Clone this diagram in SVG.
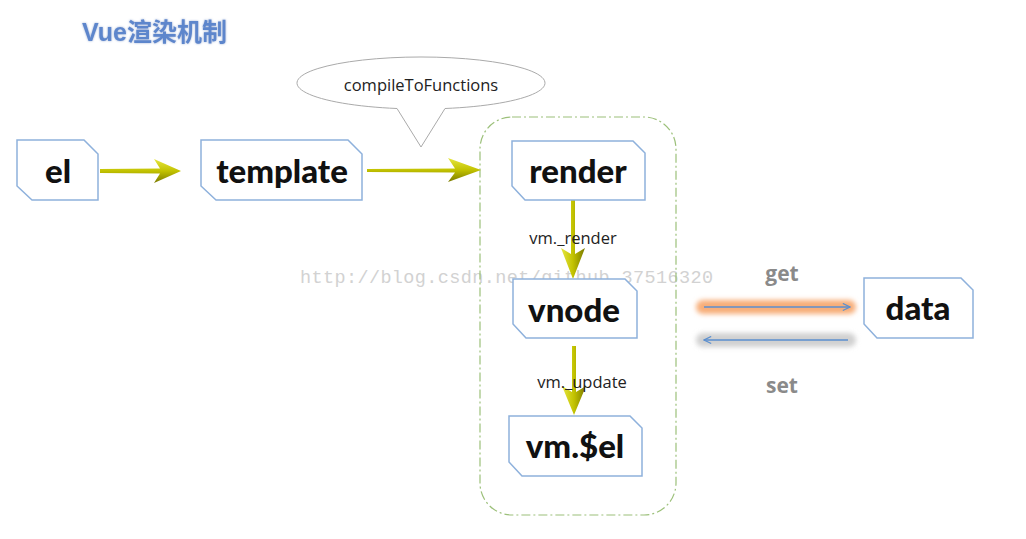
<svg xmlns="http://www.w3.org/2000/svg" width="1026" height="539" viewBox="0 0 1026 539">
<style>
.box{fill:#fff;stroke:#8eb1dc;stroke-width:1.5}
.nt{font-family:Lato,"Open Sans",sans-serif;font-weight:900;font-size:33px;fill:#111;text-anchor:middle}
.lbl{font-family:"Open Sans","Liberation Sans",sans-serif;font-size:16.5px;fill:#222;text-anchor:middle}
.gs{font-family:"Open Sans","Liberation Sans",sans-serif;font-weight:700;font-size:21px;fill:#8a8a8a;text-anchor:middle}
.ol{fill:url(#olh)}
.olv{fill:url(#olv)}
</style>
<defs>
<linearGradient id="olh" x1="0" y1="0" x2="0" y2="1">
<stop offset="0" stop-color="#e6e640"/><stop offset="0.5" stop-color="#c2c200"/><stop offset="1" stop-color="#7a7a00"/>
</linearGradient>
<linearGradient id="olv" x1="0" y1="0" x2="1" y2="0">
<stop offset="0" stop-color="#e6e640"/><stop offset="0.5" stop-color="#c2c200"/><stop offset="1" stop-color="#7a7a00"/>
</linearGradient>
<filter id="glow" x="-10%" y="-100%" width="120%" height="300%"><feGaussianBlur stdDeviation="2.5"/></filter>
<filter id="tsh" x="-10%" y="-30%" width="120%" height="160%"><feGaussianBlur in="SourceAlpha" stdDeviation="1.2" result="b"/><feFlood flood-color="#9fb3d6"/><feComposite in2="b" operator="in" result="s"/><feMerge><feMergeNode in="s"/><feMergeNode in="SourceGraphic"/></feMerge></filter>
<marker id="bh" viewBox="0 0 10 10" refX="9" refY="5" markerWidth="9" markerHeight="9" orient="auto" markerUnits="userSpaceOnUse"><path d="M1,1 L9,5 L1,9" fill="none" stroke="#5b8fcf" stroke-width="1.3"/></marker>
</defs>
<text x="82" y="41" font-family="'Liberation Sans','Noto Sans CJK SC',sans-serif" font-weight="700" font-size="25" fill="#5d86cc" filter="url(#tsh)">Vue渲染机制</text>
<text x="300" y="283" font-family="'Liberation Mono',monospace" font-size="18.5" fill="#d2d2d2" textLength="413">http://blog.csdn.net/github_37516320</text>
<g id="container"><rect x="480" y="117" width="196" height="398" rx="32" fill="none" stroke="#9cc07a" stroke-width="1.2" stroke-dasharray="9,3,2,3"/></g>
<g id="callout"><path d="M397,108.5 A124,26 0 1 1 445,108.5 L421,147 Z" fill="#fff" stroke="#aaa" stroke-width="1"/><text x="421" y="91" class="lbl" font-size="17">compileToFunctions</text></g>
<g id="connectors">
<path class="ol" d="M100,169 L160,168.5 L154,159 L181,171 L154,183 L160,173.5 L100,173 Z"/>
<path class="ol" d="M367,169 L455,168.5 L448,158 L481,170 L448,182 L455,172.5 L367,172 Z"/>
<path class="olv" d="M571,200 L571,254 L561,248 L573,279 L585,248 L575,254 L575,200 Z"/>
<path class="olv" d="M572,346 L572,392 L562,386 L574,415 L586,386 L576,392 L576,346 Z"/>
<rect x="696" y="300" width="160" height="14" rx="7" fill="#f7ad78" filter="url(#glow)"/>
<line x1="704" y1="307" x2="850" y2="307" stroke="#5b8fcf" stroke-width="1.4" marker-end="url(#bh)"/>
<rect x="696" y="333" width="160" height="14" rx="7" fill="#d0d0d0" filter="url(#glow)"/>
<line x1="848" y1="340" x2="704" y2="340" stroke="#5b8fcf" stroke-width="1.4" marker-end="url(#bh)"/>
<text x="573" y="244" class="lbl">vm._render</text>
<text x="582" y="388" class="lbl">vm._update</text>
<text x="782" y="281" class="gs">get</text>
<text x="782" y="393" class="gs">set</text>
</g>
<g id="el"><path class="box" d="M17,140 H84 L98,154 V200 H32 L17,186 Z"/><text class="nt" x="58" y="183">el</text></g>
<g id="template"><path class="box" d="M201,140 H348 L362,154 V200 H216 L201,186 Z"/><text class="nt" x="282" y="183">template</text></g>
<g id="render"><path class="box" d="M512,141 H633 L645,153 V200 H525 L512,186 Z"/><text class="nt" x="578" y="183">render</text></g>
<g id="vnode"><path class="box" d="M513,279 H625 L637,291 V338 H526 L513,324 Z"/><text class="nt" x="574" y="322">vnode</text></g>
<g id="vmel"><path class="box" d="M509,416 H630 L642,428 V476 H522 L509,462 Z"/><text class="nt" x="575" y="458">vm.$el</text></g>
<g id="data"><path class="box" d="M864,278 H961 L973,290 V338 H877 L864,324 Z"/><text class="nt" x="918" y="320">data</text></g>
</svg>
